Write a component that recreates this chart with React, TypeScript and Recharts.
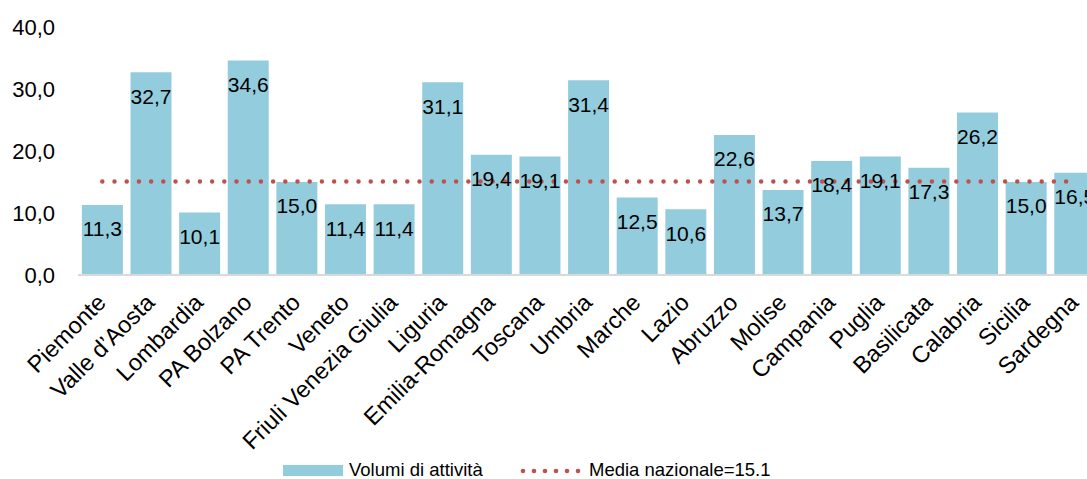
import { ComposedChart, Bar, Line, XAxis, YAxis, Legend, LabelList } from "recharts";

const regions = [
  "Piemonte",
  "Valle d’Aosta",
  "Lombardia",
  "PA Bolzano",
  "PA Trento",
  "Veneto",
  "Friuli Venezia Giulia",
  "Liguria",
  "Emilia-Romagna",
  "Toscana",
  "Umbria",
  "Marche",
  "Lazio",
  "Abruzzo",
  "Molise",
  "Campania",
  "Puglia",
  "Basilicata",
  "Calabria",
  "Sicilia",
  "Sardegna",
];

const volumi = [
  11.3, 32.7, 10.1, 34.6, 15.0, 11.4, 11.4, 31.1, 19.4, 19.1, 31.4,
  12.5, 10.6, 22.6, 13.7, 18.4, 19.1, 17.3, 26.2, 15.0, 16.5,
];

const mediaNazionale = 15.1;
const yTicks = [0, 10, 20, 30, 40];

const data = regions.map((name, i) => ({
  name,
  volumi: volumi[i],
  media: mediaNazionale,
}));

const FONT = "'Liberation Sans', Arial, sans-serif";
const BAR_COLOR = "#93CDDD";
const LINE_COLOR = "#C0504D";

// comma decimals, Italian style
const fmt = (v: number) => v.toFixed(1).replace(".", ",");

function RegionTick(props: any) {
  const { x, y, payload } = props;
  const tx = x + 5;
  const ty = y + 29;
  return (
    <text
      x={tx}
      y={ty}
      transform={`rotate(-45, ${tx}, ${ty})`}
      textAnchor="end"
      fontSize={23.5}
      fontFamily={FONT}
      fill="#000"
    >
      {payload.value}
    </text>
  );
}

function BarValue(props: any) {
  const { x, y, width, value } = props;
  return (
    <text
      x={x + width / 2}
      y={y + 24}
      dy="0.35em"
      textAnchor="middle"
      fontSize={21}
      fontFamily={FONT}
      fill="#000"
    >
      {fmt(value)}
    </text>
  );
}

function ChartLegend() {
  const dots = [0, 1, 2, 3, 4, 5];
  return (
    <svg width={1099} height={34} style={{ display: "block" }}>
      <rect x={283} y={20} width={60} height={11} fill={BAR_COLOR} />
      <text x={349} y={31} fontSize={18.5} fontFamily={FONT} fill="#000">
        Volumi di attività
      </text>
      {dots.map((d) => (
        <circle key={d} cx={523 + d * 11} cy={26} r={2.3} fill={LINE_COLOR} />
      ))}
      <text x={589} y={31} fontSize={18.5} fontFamily={FONT} fill="#000">
        Media nazionale=15.1
      </text>
    </svg>
  );
}

export default function App() {
  return (
    <div
      style={{
        position: "fixed",
        left: 0,
        top: 0,
        width: 1087,
        height: 479,
        overflow: "hidden",
        background: "#fff",
        fontFamily: FONT,
      }}
    >
      <ComposedChart
        width={1099}
        height={479}
        data={data}
        margin={{ top: 27, right: 0, left: 0, bottom: 0 }}
        barCategoryGap="8%"
      >
        <XAxis
          dataKey="name"
          interval={0}
          height={170}
          tickLine={false}
          tickSize={0}
          tickMargin={0}
          axisLine={{ stroke: "#D9D9D9", strokeWidth: 2 }}
          tick={<RegionTick />}
        />
        <YAxis
          domain={[0, 40]}
          ticks={yTicks}
          width={78}
          axisLine={false}
          tickLine={false}
          tickSize={0}
          tickMargin={23}
          tickFormatter={fmt}
          tick={{ fontSize: 22, fill: "#000", fontFamily: FONT }}
        />
        <Legend verticalAlign="bottom" height={34} content={<ChartLegend />} />
        <Bar dataKey="volumi" fill={BAR_COLOR} isAnimationActive={false}>
          <LabelList dataKey="volumi" content={<BarValue />} />
        </Bar>
        <Line
          type="linear"
          dataKey="media"
          stroke={LINE_COLOR}
          strokeWidth={4.5}
          strokeDasharray="0 12.2"
          strokeLinecap="round"
          dot={false}
          activeDot={false}
          isAnimationActive={false}
        />
      </ComposedChart>
    </div>
  );
}
